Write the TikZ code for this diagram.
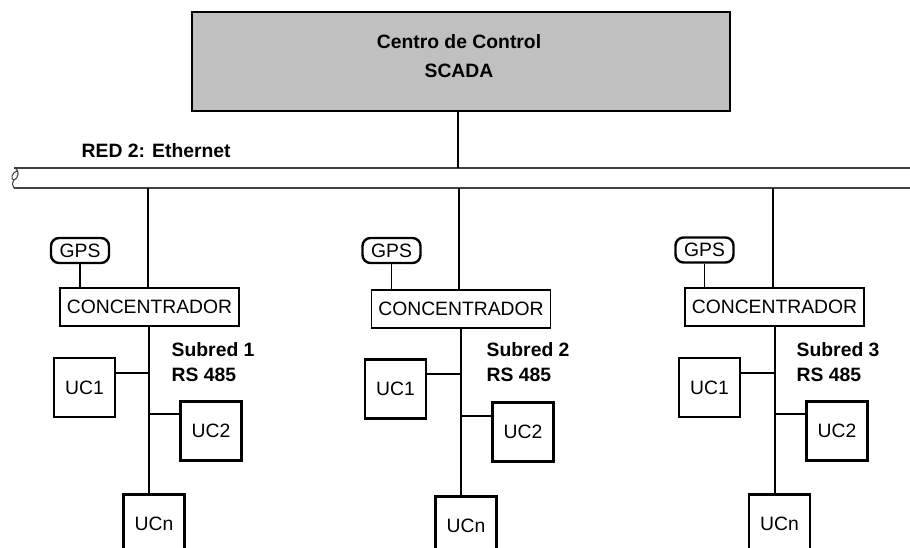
\documentclass[tikz,border=0pt]{standalone}
\usepackage{fontspec}
\setmainfont{Liberation Sans}
\begin{document}
\begin{tikzpicture}[x=0.75pt,y=0.75pt,yscale=-1,xscale=1,
    lbl/.style={font=\fontsize{14.5}{18.75}\selectfont},
    boldlbl/.style={font=\bfseries\fontsize{14.5}{18.75}\selectfont},
    ucbox/.style={draw, line width=2.2pt, minimum width=45.75pt, minimum height=44.25pt, inner sep=0pt, lbl},
    concbox/.style={draw, line width=0.8pt, minimum width=134.25pt, minimum height=28.5pt, inner sep=0pt, lbl},
    gpsbox/.style={draw, line width=1.8pt, rounded corners=6pt, minimum width=43.5pt, minimum height=18.75pt, inner sep=0pt, lbl},
    wire/.style={line width=2.2pt},
    gpswire/.style={line width=1.4pt},
    buswire/.style={line width=1.1pt, draw={rgb, 255:red, 64; green, 64; blue, 64 }}]
    \clip (0,0) rectangle (910,547); %set diagram to 910 x 547
    
    % Text Node
    \node [draw, line width=2.2pt, fill={rgb, 255:red, 192; green, 192; blue, 192 }, minimum width=403.5pt, minimum height=74.25pt] (scada) at (461,61.5) {};
    \node [align=center, font=\bfseries\fontsize{14.5}{21.75}\selectfont] (scadatxt) at (459,56) {Centro de Control\\SCADA};
    % Bus
    \draw [buswire] (14,168) -- (910,168) ;
    \draw [buswire] (14,188) -- (910,188) ;
    \draw [buswire, line width=0.8pt] (14,168) .. controls (21,170) and (18,179) .. (14,180) .. controls (10,180) and (12,172) .. (17,171) ;
    \draw [buswire, line width=0.8pt] (14,180) .. controls (12,183) and (12,186) .. (14,188) ;
    \node [boldlbl, anchor=west] (redlbl) at (77,151) {RED 2: Ethernet};
    % Connection
    \coordinate (scadadrop) at (458,168);
    \draw [wire] (scada.south -| scadadrop) -- (scadadrop) ;
    
    % Text Node
    \node [gpsbox] (gps1) at (80,250.5) {GPS};
    \node [concbox] (conc1) at (149.5,307) {CONCENTRADOR};
    \node [ucbox] (uca1) at (84.5,387.5) {UC1};
    \node [ucbox] (ucb1) at (211,431) {UC2};
    \node [ucbox, anchor=north] (ucn1) at (154,493) {UCn};
    \node [boldlbl, align=left, anchor=west] (sub1) at (167,362.5) {Subred 1\\RS 485};
    % Connection
    \coordinate (drop1) at (148,188);
    \coordinate (tapa1) at (149,373);
    \coordinate (tapb1) at (149,414);
    \draw [wire] (drop1) -- (drop1 |- conc1.north) ;
    \draw [gpswire] (gps1.south) -- (gps1.south |- conc1.north) ;
    \draw [wire] (tapa1 |- conc1.south) -- (tapa1 |- ucn1.north) ;
    \draw [wire] (uca1.east |- tapa1) -- (tapa1) ;
    \draw [wire] (tapb1) -- (ucb1.west |- tapb1) ;
    
    % Text Node
    \node [gpsbox] (gps2) at (391.5,250.5) {GPS};
    \node [concbox] (conc2) at (461,309) {CONCENTRADOR};
    \node [ucbox] (uca2) at (395.5,389) {UC1};
    \node [ucbox] (ucb2) at (523,432) {UC2};
    \node [ucbox, anchor=north] (ucn2) at (466,495) {UCn};
    \node [boldlbl, align=left, anchor=west] (sub2) at (482,362.5) {Subred 2\\RS 485};
    % Connection
    \coordinate (drop2) at (459,188);
    \coordinate (tapa2) at (461,374);
    \coordinate (tapb2) at (461,416);
    \draw [wire] (drop2) -- (drop2 |- conc2.north) ;
    \draw [gpswire] (gps2.south) -- (gps2.south |- conc2.north) ;
    \draw [wire] (tapa2 |- conc2.south) -- (tapa2 |- ucn2.north) ;
    \draw [wire] (uca2.east |- tapa2) -- (tapa2) ;
    \draw [wire] (tapb2) -- (ucb2.west |- tapb2) ;
    
    % Text Node
    \node [gpsbox] (gps3) at (704.5,250) {GPS};
    \node [concbox] (conc3) at (774.5,307) {CONCENTRADOR};
    \node [ucbox] (uca3) at (709.5,387.5) {UC1};
    \node [ucbox] (ucb3) at (837,431) {UC2};
    \node [ucbox, anchor=north] (ucn3) at (779.5,493) {UCn};
    \node [boldlbl, align=left, anchor=west] (sub3) at (792,362.5) {Subred 3\\RS 485};
    % Connection
    \coordinate (drop3) at (773,188);
    \coordinate (tapa3) at (775,373);
    \coordinate (tapb3) at (775,414);
    \draw [wire] (drop3) -- (drop3 |- conc3.north) ;
    \draw [gpswire] (gps3.south) -- (gps3.south |- conc3.north) ;
    \draw [wire] (tapa3 |- conc3.south) -- (tapa3 |- ucn3.north) ;
    \draw [wire] (uca3.east |- tapa3) -- (tapa3) ;
    \draw [wire] (tapb3) -- (ucb3.west |- tapb3) ;
    
    \end{tikzpicture}
\end{document}
